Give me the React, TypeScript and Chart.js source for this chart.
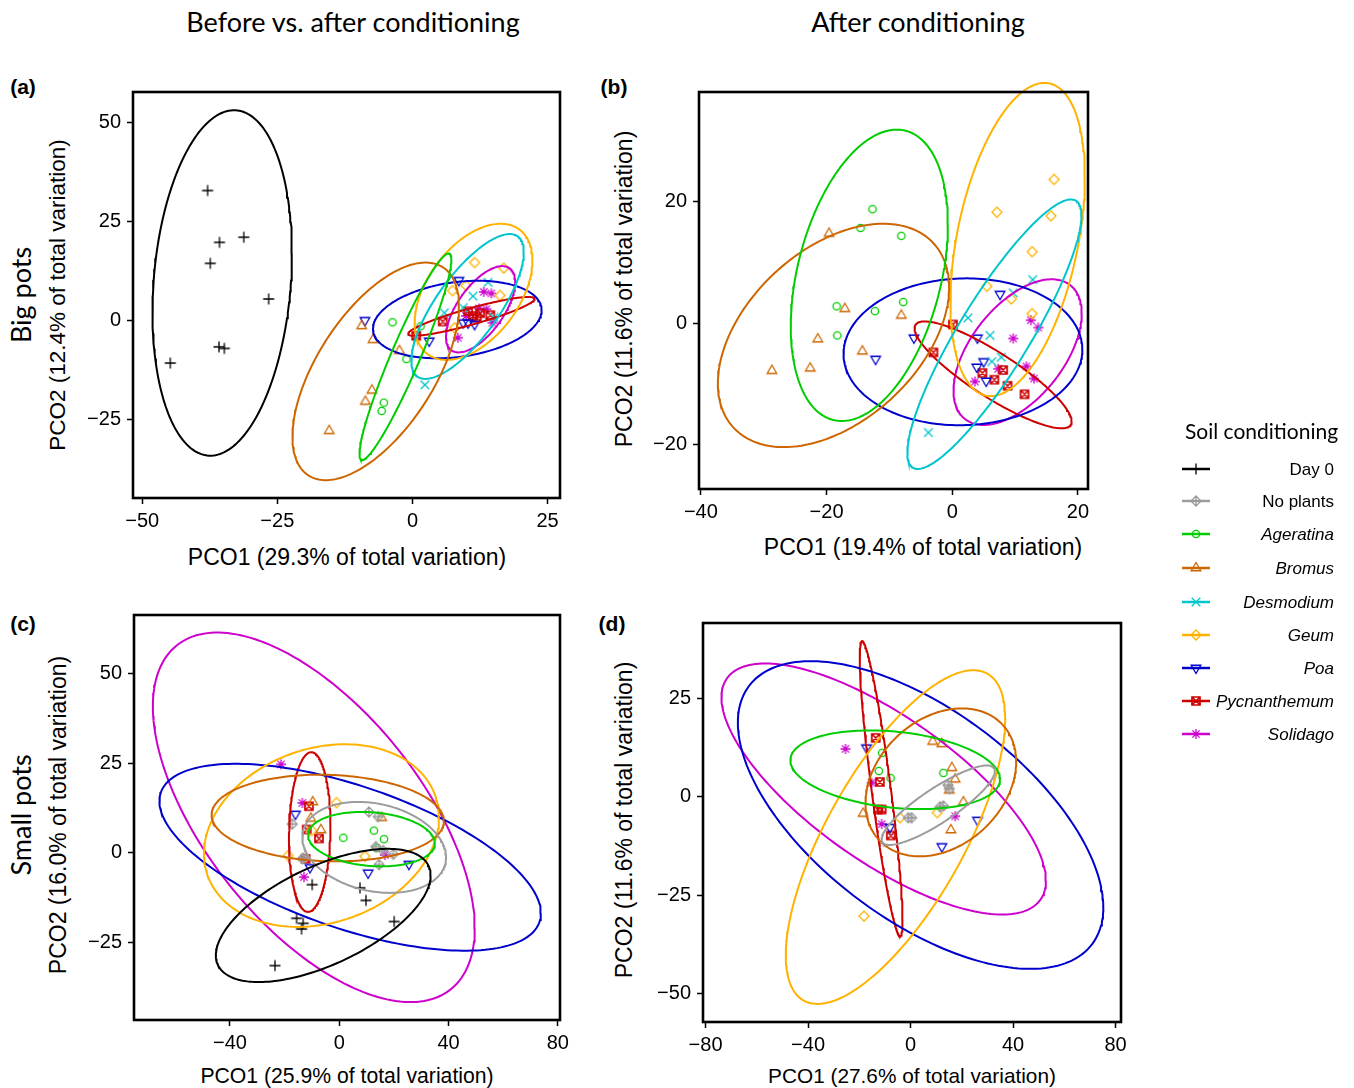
import React, { useEffect, useRef } from 'react';
import { Chart, registerables } from 'chart.js';

Chart.register(...registerables);

type Pt = [number, number];
// ellipse: centre x, centre y, half-extent x, half-extent y, correlation
type Ell = [number, number, number, number, number];

// ---------------- groups ----------------
const GROUP_NAMES = ['Day 0', 'No plants', 'Ageratina', 'Bromus', 'Desmodium', 'Geum', 'Poa', 'Pycnanthemum', 'Solidago'];
const GROUP_COLORS = ['#000000', '#9c9c9c', '#00cd00', '#cd6600', '#00c5cd', '#ffb300', '#0000cd', '#cd0000', '#cd00cd'];
const GROUP_MARKERS = ['plus', 'diamondPlus', 'circle', 'triangle', 'xcross', 'diamond', 'invTriangle', 'squareX', 'asterisk'];
const GROUP_ITALIC = [false, false, true, true, true, true, true, true, true];

// ---------------- panel (a) ----------------
const A_X_TICKS = [-50, -25, 0, 25];
const A_Y_TICKS = [-25, 0, 25, 50];
const A_X_RANGE: Pt = [-51.7, 27.3];
const A_Y_RANGE: Pt = [-44.9, 57.7];
const A_POINTS: Record<string, Pt[]> = {
  'Day 0': [[-37.9, 32.8], [-35.7, 19.7], [-31.2, 21.0], [-37.4, 14.4], [-26.6, 5.4], [-35.8, -6.7], [-34.8, -7.1], [-44.8, -10.8]],
  'Ageratina': [[-3.7, -0.5], [-1.1, -9.8], [-5.3, -20.8], [-5.7, -22.9], [1.5, -1.5]],
  'Bromus': [[-9.4, -1.4], [-7.3, -4.9], [-2.4, -7.7], [-7.5, -17.7], [-8.7, -20.5], [-15.4, -27.9]],
  'Desmodium': [[14.0, 9.6], [11.2, 6.1], [5.9, 1.9], [2.3, -16.3], [9.4, 3.2], [15.1, 0.7]],
  'Geum': [[11.5, 14.6], [16.9, 13.2], [7.4, 7.5], [9.9, 8.8], [16.2, 6.3], [7.8, -1.9]],
  'Poa': [[-8.8, 0.0], [8.6, 10.1], [3.1, -5.2], [9.4, -0.6], [10.3, -0.6], [11.5, -1.0]],
  'Pycnanthemum': [[0.7, -3.9], [5.6, -0.3], [10.3, 2.3], [11.2, 1.1], [11.9, 0.7], [14.4, 1.3], [12.5, 1.8]],
  'Solidago': [[13.2, 7.2], [14.6, 6.8], [12.3, 3.0], [13.7, 2.8], [9.9, 1.1], [14.8, -0.6], [8.4, -4.4]],
};
const A_ELLIPSES: Record<string, Ell> = {
  'Day 0': [-35.2, 9.45, 12.9, 43.65, 0.17],
  'Ageratina': [-1.3, -9.2, 8.5, 26.1, 0.94],
  'Bromus': [-6.8, -12.9, 15.4, 27.5, 0.6],
  'Desmodium': [10.2, 3.5, 10.4, 18.3, 0.75],
  'Geum': [11.3, 7.2, 10.9, 17.2, 0.46],
  'Poa': [8.3, 0.2, 15.6, 9.8, 0.24],
  'Pycnanthemum': [10.9, 1.0, 11.7, 4.9, 0.9],
  'Solidago': [12.6, 2.8, 6.4, 10.9, 0.63],
};

// ---------------- panel (b) ----------------
const B_X_TICKS = [-40, -20, 0, 20];
const B_Y_TICKS = [-20, 0, 20];
const B_X_RANGE: Pt = [-40.3, 21.6];
const B_Y_RANGE: Pt = [-27.3, 38.1];
const B_POINTS: Record<string, Pt[]> = {
  'Ageratina': [[-12.7, 18.8], [-14.6, 15.7], [-18.4, 2.8], [-12.3, 2.0], [-18.3, -2.0], [-8.1, 14.4], [-7.8, 3.5]],
  'Bromus': [[-19.6, 14.8], [-17.1, 2.4], [-21.4, -2.6], [-14.3, -4.6], [-28.7, -7.8], [-22.6, -7.4], [-8.1, 1.3]],
  'Desmodium': [[12.8, 7.2], [9.7, 5.0], [2.5, 0.9], [6.0, -2.0], [7.8, -5.6], [6.3, -6.3], [-3.8, -18.0]],
  'Geum': [[16.2, 23.7], [7.1, 18.3], [15.7, 17.7], [12.7, 11.8], [5.5, 6.1], [9.4, 4.0], [12.7, 1.6]],
  'Poa': [[-12.2, -5.9], [-6.1, -2.4], [7.6, 4.8], [4.0, -2.4], [5.0, -6.3], [3.9, -7.2], [5.4, -9.5]],
  'Pycnanthemum': [[0.1, -0.2], [-3.0, -4.8], [4.8, -8.2], [8.1, -7.7], [6.7, -9.3], [8.8, -10.3], [11.5, -11.7]],
  'Solidago': [[12.5, 0.5], [13.7, -0.7], [9.7, -2.5], [11.8, -7.1], [13.0, -9.1], [7.3, -7.5], [3.6, -9.6]],
};
const B_ELLIPSES: Record<string, Ell> = {
  'Ageratina': [-13.2, 7.9, 12.5, 24.0, 0.35],
  'Bromus': [-18.9, -2.0, 18.4, 18.4, 0.43],
  'Desmodium': [6.7, -1.8, 13.85, 22.2, 0.88],
  'Geum': [10.4, 13.8, 10.7, 25.8, 0.4],
  'Poa': [1.7, -4.7, 19.0, 12.1, 0.03],
  'Pycnanthemum': [6.5, -8.5, 12.5, 8.8, -0.87],
  'Solidago': [10.4, -4.75, 10.2, 12.0, 0.53],
};

// ---------------- panel (c) ----------------
const C_X_TICKS = [-40, 0, 40, 80];
const C_Y_TICKS = [-25, 0, 25, 50];
const C_X_RANGE: Pt = [-75.1, 80.8];
const C_Y_RANGE: Pt = [-46.7, 66.4];
const C_POINTS: Record<string, Pt[]> = {
  'Day 0': [[-9.9, -8.9], [-15.6, -18.3], [-13.2, -19.7], [-13.8, -21.3], [-23.5, -31.5], [7.6, -9.8], [9.8, -13.3], [20.1, -19.2]],
  'No plants': [[-17.2, 8.0], [-13.5, -1.7], [10.9, 11.4], [14.3, 10.1], [13.4, 1.7], [16.1, 0.6], [19.8, -0.4], [14.6, -3.3], [-13.2, -1.5]],
  'Ageratina': [[1.5, 4.2], [12.7, 6.2], [16.4, 3.8], [13.7, 1.3]],
  'Bromus': [[-9.7, 14.2], [-10.4, 9.6], [-6.7, 6.4], [15.5, 9.8]],
  'Geum': [[-1.0, 14.0], [-18.7, -0.8], [-10.1, 6.2], [9.4, -1.0]],
  'Poa': [[-16.0, 10.8], [-10.7, -4.1], [10.6, -5.6], [25.5, -3.2]],
  'Pycnanthemum': [[-11.1, 13.0], [-11.9, 6.5], [-7.4, 4.0], [-12.3, -1.7]],
  'Solidago': [[-21.3, 24.7], [-13.5, 13.9], [-12.9, -6.8], [16.7, -0.6]],
};
const C_ELLIPSES: Record<string, Ell> = {
  'Day 0': [-5.85, -17.5, 39.3, 18.6, 0.6],
  'No plants': [12.8, 1.5, 26.3, 12.7, -0.22],
  'Ageratina': [11.8, 3.8, 23.2, 7.6, -0.15],
  'Bromus': [-4.2, 9.7, 42.5, 12.1, -0.07],
  'Geum': [-6.5, 4.8, 43.0, 25.5, 0.2],
  'Poa': [4.0, -1.25, 69.8, 26.1, -0.6],
  'Pycnanthemum': [-10.8, 5.8, 7.6, 22.3, 0.08],
  'Solidago': [-9.3, 9.9, 58.9, 51.6, -0.6],
};

// ---------------- panel (d) ----------------
const D_X_TICKS = [-80, -40, 0, 40, 80];
const D_Y_TICKS = [-50, -25, 0, 25];
const D_X_RANGE: Pt = [-81.0, 82.1];
const D_Y_RANGE: Pt = [-57.2, 44.2];
const D_POINTS: Record<string, Pt[]> = {
  'No plants': [[0.4, -5.3], [15.1, 2.1], [14.6, 3.0], [12.8, -2.3], [11.5, -2.5], [-0.9, -5.3]],
  'Ageratina': [[-11.1, 11.2], [-12.4, 6.6], [-7.8, 4.8], [12.8, 6.1]],
  'Bromus': [[-18.5, -4.2], [8.6, 14.1], [12.2, 13.5], [16.1, 7.4], [17.4, 4.5], [15.1, 1.7], [20.6, -1.3], [15.7, -8.4]],
  'Geum': [[-4.1, -5.3], [-18.2, -30.3], [10.4, -4.0]],
  'Poa': [[-17.2, 12.5], [-8.1, -7.7], [26.1, -5.9], [12.2, -12.6]],
  'Pycnanthemum': [[-13.6, 15.0], [-12.0, 3.8], [-12.7, -3.2], [-11.3, -3.2], [-7.7, -9.8]],
  'Solidago': [[-25.4, 12.2], [-15.2, 3.6], [-11.3, -6.9], [17.4, -4.9]],
};
const D_ELLIPSES: Record<string, Ell> = {
  'No plants': [10.8, -2.1, 22.1, 10.1, 0.86],
  'Ageratina': [-6.0, 6.9, 40.9, 10.0, -0.24],
  'Bromus': [11.8, 3.7, 29.4, 18.8, 0.28],
  'Geum': [-5.9, -10.2, 42.8, 42.4, 0.71],
  'Poa': [3.9, -4.6, 71.3, 39.1, -0.6],
  'Pycnanthemum': [-11.5, 2.1, 8.35, 37.5, -0.89],
  'Solidago': [-10.5, 2.0, 63.3, 31.9, -0.73],
};

// ---------------- layout ----------------
const TICK_FONT = '"Liberation Sans", Arial, Helvetica, sans-serif';
const TITLE_FONT = 'Lato, "Open Sans", sans-serif';
const PAD_L = 90;
const PAD_T = 15;
const PAD_R = 15;
const PAD_B = 40;

const PANELS = [
  { box: [133, 89, 560, 498], xr: A_X_RANGE, yr: A_Y_RANGE, xt: A_X_TICKS, yt: A_Y_TICKS, pts: A_POINTS, ells: A_ELLIPSES },
  { box: [699, 89, 1088, 489], xr: B_X_RANGE, yr: B_Y_RANGE, xt: B_X_TICKS, yt: B_Y_TICKS, pts: B_POINTS, ells: B_ELLIPSES },
  { box: [134, 612, 560, 1020], xr: C_X_RANGE, yr: C_Y_RANGE, xt: C_X_TICKS, yt: C_Y_TICKS, pts: C_POINTS, ells: C_ELLIPSES },
  { box: [703, 620, 1121, 1022], xr: D_X_RANGE, yr: D_Y_RANGE, xt: D_X_TICKS, yt: D_Y_TICKS, pts: D_POINTS, ells: D_ELLIPSES },
];

const TEXTS = [
  { text: 'Before vs. after conditioning', x: 353, y: 21, size: 27, font: TITLE_FONT },
  { text: 'After conditioning', x: 918, y: 21, size: 27, font: TITLE_FONT },
  { text: 'Big pots', x: 20, y: 295, size: 27, font: TITLE_FONT, rot: true },
  { text: 'Small pots', x: 20, y: 815, size: 27, font: TITLE_FONT, rot: true },
  { text: '(a)', x: 23, y: 86, size: 21, font: TICK_FONT, bold: true },
  { text: '(b)', x: 614, y: 86, size: 21, font: TICK_FONT, bold: true },
  { text: '(c)', x: 23, y: 623, size: 21, font: TICK_FONT, bold: true },
  { text: '(d)', x: 612, y: 623, size: 21, font: TICK_FONT, bold: true },
  { text: 'PCO1 (29.3% of total variation)', x: 347, y: 557, size: 23, font: TICK_FONT },
  { text: 'PCO2 (12.4% of total variation)', x: 58, y: 295, size: 22.5, font: TICK_FONT, rot: true },
  { text: 'PCO1 (19.4% of total variation)', x: 923, y: 547, size: 23, font: TICK_FONT },
  { text: 'PCO2 (11.6% of total variation)', x: 624, y: 289, size: 23, font: TICK_FONT, rot: true },
  { text: 'PCO1 (25.9% of total variation)', x: 347, y: 1076, size: 21.2, font: TICK_FONT },
  { text: 'PCO2 (16.0% of total variation)', x: 58, y: 815, size: 23, font: TICK_FONT, rot: true },
  { text: 'PCO1 (27.6% of total variation)', x: 912, y: 1076, size: 20.8, font: TICK_FONT },
  { text: 'PCO2 (11.6% of total variation)', x: 624, y: 820, size: 23, font: TICK_FONT, rot: true },
];

const LEGEND_ROWS_Y = [469, 501, 534, 568, 602, 635, 668, 701, 734];

// ---------------- helpers ----------------
function drawMarker(ctx: CanvasRenderingContext2D, m: string, x: number, y: number, color: string) {
  ctx.save();
  ctx.strokeStyle = color;
  ctx.lineWidth = 1.3;
  ctx.beginPath();
  if (m === 'plus') {
    ctx.moveTo(x - 5.5, y); ctx.lineTo(x + 5.5, y); ctx.moveTo(x, y - 5.5); ctx.lineTo(x, y + 5.5);
  } else if (m === 'diamondPlus') {
    ctx.moveTo(x, y - 5); ctx.lineTo(x + 5, y); ctx.lineTo(x, y + 5); ctx.lineTo(x - 5, y); ctx.closePath();
    ctx.moveTo(x - 5, y); ctx.lineTo(x + 5, y); ctx.moveTo(x, y - 5); ctx.lineTo(x, y + 5);
  } else if (m === 'circle') {
    ctx.arc(x, y, 3.7, 0, Math.PI * 2);
  } else if (m === 'triangle') {
    ctx.moveTo(x, y - 5.5); ctx.lineTo(x + 4.8, y + 2.75); ctx.lineTo(x - 4.8, y + 2.75); ctx.closePath();
  } else if (m === 'invTriangle') {
    ctx.moveTo(x, y + 5.5); ctx.lineTo(x + 4.8, y - 2.75); ctx.lineTo(x - 4.8, y - 2.75); ctx.closePath();
  } else if (m === 'xcross') {
    ctx.moveTo(x - 4.3, y - 4.3); ctx.lineTo(x + 4.3, y + 4.3); ctx.moveTo(x - 4.3, y + 4.3); ctx.lineTo(x + 4.3, y - 4.3);
  } else if (m === 'diamond') {
    ctx.moveTo(x, y - 5); ctx.lineTo(x + 5, y); ctx.lineTo(x, y + 5); ctx.lineTo(x - 5, y); ctx.closePath();
  } else if (m === 'squareX') {
    ctx.lineWidth = 1.7;
    ctx.rect(x - 4, y - 4, 8, 8);
    ctx.moveTo(x - 4, y - 4); ctx.lineTo(x + 4, y + 4); ctx.moveTo(x - 4, y + 4); ctx.lineTo(x + 4, y - 4);
  } else if (m === 'asterisk') {
    const d = 3.6;
    ctx.moveTo(x - 5, y); ctx.lineTo(x + 5, y); ctx.moveTo(x, y - 5); ctx.lineTo(x, y + 5);
    ctx.moveTo(x - d, y - d); ctx.lineTo(x + d, y + d); ctx.moveTo(x - d, y + d); ctx.lineTo(x + d, y - d);
  }
  ctx.stroke();
  ctx.restore();
}

const markerCache: Record<string, HTMLCanvasElement> = {};
function markerImage(m: string, color: string): HTMLCanvasElement {
  const key = m + color;
  if (markerCache[key]) return markerCache[key];
  const c = document.createElement('canvas');
  c.width = 16;
  c.height = 16;
  const ctx = c.getContext('2d') as CanvasRenderingContext2D;
  drawMarker(ctx, m, 8, 8, color);
  markerCache[key] = c;
  return c;
}

function ellipsePath(e: Ell) {
  const [cx, cy, rx, ry, rho] = e;
  const s = Math.sqrt(Math.max(0, 1 - rho * rho));
  const out: { x: number; y: number }[] = [];
  const n = 200;
  for (let i = 0; i <= n; i++) {
    const t = (i / n) * Math.PI * 2;
    out.push({ x: cx + rx * Math.cos(t), y: cy + ry * (rho * Math.cos(t) + s * Math.sin(t)) });
  }
  return out;
}

const fmt = (v: number) => (v < 0 ? '\u2212' + Math.abs(v) : String(v));

const boxPlugin = {
  id: 'rbox',
  afterDatasetsDraw(chart: any) {
    const { left, top, right, bottom } = chart.chartArea;
    const ctx = chart.ctx;
    ctx.save();
    ctx.strokeStyle = '#000';
    ctx.lineWidth = 2.6;
    ctx.strokeRect(left, top, right - left, bottom - top);
    ctx.restore();
  },
};

type PanelSpec = (typeof PANELS)[number];

function Panel({ p }: { p: PanelSpec }) {
  const ref = useRef<HTMLCanvasElement>(null);
  const [L, T, R, B] = p.box;
  const w = R - L + PAD_L + PAD_R;
  const h = B - T + PAD_T + PAD_B;
  useEffect(() => {
    if (!ref.current) return;
    const datasets: any[] = [];
    GROUP_NAMES.forEach((g, gi) => {
      const e = p.ells[g];
      if (e) {
        datasets.push({
          data: ellipsePath(e),
          showLine: true,
          pointRadius: 0,
          borderColor: GROUP_COLORS[gi],
          borderWidth: 2,
          fill: false,
          tension: 0,
          clip: false,
          order: 1,
        });
      }
    });
    GROUP_NAMES.forEach((g, gi) => {
      const pts = p.pts[g];
      if (pts) {
        datasets.push({
          data: pts.map(([x, y]) => ({ x, y })),
          showLine: false,
          pointStyle: markerImage(GROUP_MARKERS[gi], GROUP_COLORS[gi]),
          pointRadius: 5,
          borderColor: GROUP_COLORS[gi],
          backgroundColor: 'rgba(0,0,0,0)',
          clip: false,
          order: 2,
        });
      }
    });
    const scaleCommon = {
      type: 'linear',
      grid: { display: true, drawOnChartArea: false, drawTicks: true, tickLength: 6, tickWidth: 1.5, tickColor: '#000' },
      border: { display: false },
    };
    const chart = new Chart(ref.current, {
      type: 'scatter',
      data: { datasets },
      options: {
        responsive: false,
        animation: false,
        events: [],
        layout: { padding: { left: 0, top: PAD_T, right: PAD_R, bottom: 0 } },
        plugins: { legend: { display: false }, tooltip: { enabled: false } },
        scales: {
          x: {
            ...scaleCommon,
            min: p.xr[0],
            max: p.xr[1],
            afterFit: (s: any) => { s.height = PAD_B; },
            afterBuildTicks: (s: any) => { s.ticks = p.xt.map((v) => ({ value: v })); },
            ticks: { color: '#000', font: { family: TICK_FONT, size: 20 }, padding: 5, autoSkip: false, maxRotation: 0, minRotation: 0, callback: (v: any) => fmt(Number(v)) },
          },
          y: {
            ...scaleCommon,
            min: p.yr[0],
            max: p.yr[1],
            afterFit: (s: any) => { s.width = PAD_L; },
            afterBuildTicks: (s: any) => { s.ticks = p.yt.map((v) => ({ value: v })); },
            ticks: { color: '#000', font: { family: TICK_FONT, size: 20 }, padding: 6, autoSkip: false, callback: (v: any) => fmt(Number(v)) },
          },
        },
      } as any,
      plugins: [boxPlugin],
    });
    return () => chart.destroy();
  }, []);
  return (
    <canvas
      ref={ref}
      width={w}
      height={h}
      style={{ position: 'absolute', left: L - PAD_L, top: T - PAD_T, width: w, height: h }}
    />
  );
}

function Legend() {
  const ref = useRef<HTMLCanvasElement>(null);
  const ox = 1170;
  const oy = 410;
  useEffect(() => {
    const c = ref.current;
    if (!c) return;
    const ctx = c.getContext('2d') as CanvasRenderingContext2D;
    ctx.clearRect(0, 0, c.width, c.height);
    ctx.fillStyle = '#000';
    ctx.textBaseline = 'middle';
    ctx.textAlign = 'left';
    ctx.font = `21px ${TITLE_FONT}`;
    ctx.fillText('Soil conditioning', 1185 - ox, 432 - oy);
    GROUP_NAMES.forEach((g, i) => {
      const y = LEGEND_ROWS_Y[i] - oy;
      ctx.save();
      ctx.strokeStyle = GROUP_COLORS[i];
      ctx.lineWidth = 2.5;
      ctx.beginPath();
      ctx.moveTo(1182 - ox, y);
      ctx.lineTo(1210 - ox, y);
      ctx.stroke();
      ctx.restore();
      drawMarker(ctx, GROUP_MARKERS[i], 1196 - ox, y, GROUP_COLORS[i]);
      ctx.fillStyle = '#000';
      ctx.textAlign = 'right';
      ctx.font = `${GROUP_ITALIC[i] ? 'italic ' : ''}17px ${TICK_FONT}`;
      ctx.fillText(g, 1334 - ox, y + 1);
    });
  }, []);
  return <canvas ref={ref} width={184} height={345} style={{ position: 'absolute', left: ox, top: oy, width: 184, height: 345 }} />;
}

export default function App() {
  return (
    <div style={{ position: 'absolute', left: 0, top: 0, width: 1354, height: 1088, background: '#fff', overflow: 'hidden' }}>
      {TEXTS.map((t, i) => (
        <div
          key={i}
          style={{
            position: 'absolute',
            left: t.x,
            top: t.y,
            transform: 'translate(-50%, -50%)' + (t.rot ? ' rotate(-90deg)' : ''),
            whiteSpace: 'nowrap',
            fontFamily: t.font,
            fontSize: t.size,
            fontWeight: t.bold ? 'bold' : 'normal',
            lineHeight: 1,
            color: '#000',
          }}
        >
          {t.text}
        </div>
      ))}
      {PANELS.map((p, i) => (
        <Panel key={i} p={p} />
      ))}
      <Legend />
    </div>
  );
}
